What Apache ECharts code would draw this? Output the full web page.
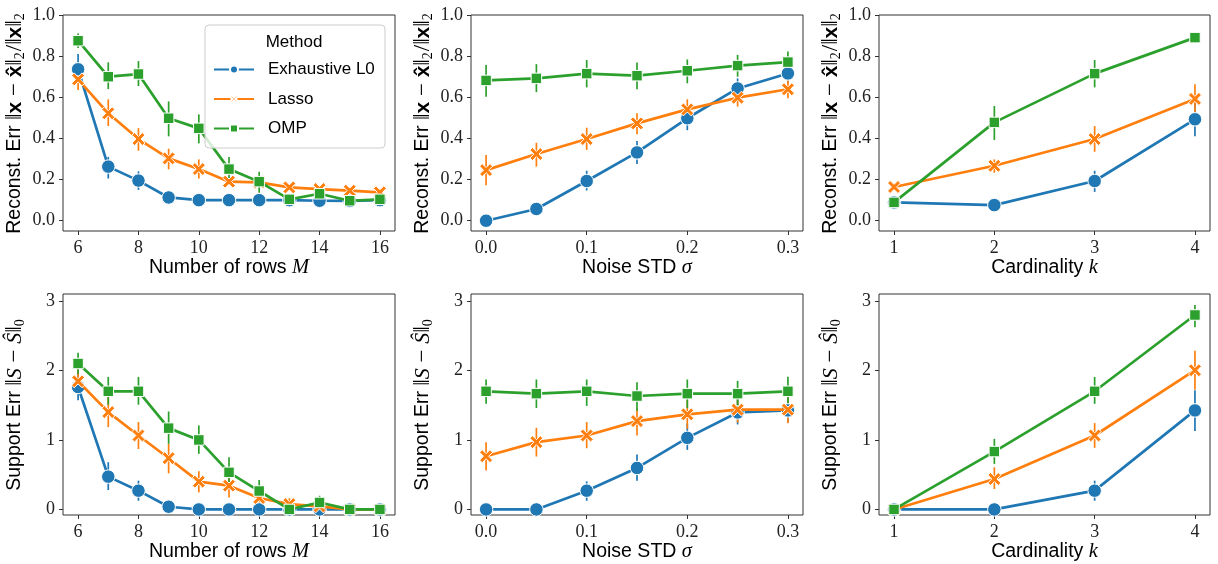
<!DOCTYPE html>
<html>
<head>
<meta charset="utf-8">
<script src="https://cdn.jsdelivr.net/npm/echarts@6/dist/echarts.min.js"></script>
<style>html,body{margin:0;padding:0;background:#fff}#c{width:1218px;height:564px}</style>
</head>
<body>
<div id="c"></div>
<script>
// ---------- data ----------
const methods = ['Exhaustive L0', 'Lasso', 'OMP'];
const rowsM = [6, 7, 8, 9, 10, 11, 12, 13, 14, 15, 16];
const noiseSigma = [0, 0.05, 0.1, 0.15, 0.2, 0.25, 0.3];
const cardK = [1, 2, 3, 4];

const xTicksM = [6, 8, 10, 12, 14, 16];
const xTicksSigma = [0, 0.1, 0.2, 0.3];
const xTicksK = [1, 2, 3, 4];
const yTicksRec = [0, 0.2, 0.4, 0.6, 0.8, 1.0];
const yTicksSup = [0, 1, 2, 3];

// Reconstruction error vs M
const recM_L0 = [0.736, 0.263, 0.195, 0.113, 0.100, 0.100, 0.100, 0.100, 0.097, 0.096, 0.100];
const recM_L0_ci = [[0.67, 0.81], [0.205, 0.31], [0.15, 0.24], [0.10, 0.125], [0.095, 0.105], [0.095, 0.105], [0.095, 0.105], [0.095, 0.105], [0.092, 0.102], [0.091, 0.101], [0.095, 0.105]];
const recM_Lasso = [0.687, 0.522, 0.397, 0.303, 0.251, 0.190, 0.186, 0.162, 0.154, 0.146, 0.138];
const recM_Lasso_ci = [[0.635, 0.74], [0.46, 0.59], [0.34, 0.45], [0.25, 0.35], [0.205, 0.298], [0.175, 0.205], [0.172, 0.200], [0.152, 0.172], [0.145, 0.163], [0.138, 0.154], [0.130, 0.146]];
const recM_OMP = [0.875, 0.700, 0.713, 0.498, 0.449, 0.251, 0.190, 0.104, 0.131, 0.097, 0.104];
const recM_OMP_ci = [[0.84, 0.91], [0.64, 0.77], [0.655, 0.776], [0.41, 0.58], [0.376, 0.517], [0.185, 0.31], [0.136, 0.238], [0.098, 0.11], [0.104, 0.157], [0.092, 0.102], [0.098, 0.11]];

// Reconstruction error vs sigma
const recS_L0 = [0.0, 0.057, 0.193, 0.332, 0.498, 0.643, 0.716];
const recS_L0_ci = [[0, 0], [0.05, 0.064], [0.147, 0.243], [0.276, 0.387], [0.44, 0.546], [0.595, 0.692], [0.668, 0.765]];
const recS_Lasso = [0.246, 0.324, 0.397, 0.473, 0.541, 0.598, 0.639];
const recS_Lasso_ci = [[0.173, 0.319], [0.263, 0.379], [0.344, 0.452], [0.42, 0.522], [0.49, 0.59], [0.555, 0.639], [0.595, 0.684]];
const recS_OMP = [0.682, 0.692, 0.715, 0.705, 0.729, 0.754, 0.771];
const recS_OMP_ci = [[0.603, 0.757], [0.625, 0.761], [0.648, 0.781], [0.639, 0.769], [0.668, 0.784], [0.70, 0.806], [0.714, 0.822]];

// Reconstruction error vs k
const recK_L0 = [0.089, 0.076, 0.193, 0.493];
const recK_L0_ci = [[0.08, 0.098], [0.07, 0.082], [0.14, 0.243], [0.41, 0.579]];
const recK_Lasso = [0.164, 0.267, 0.397, 0.592];
const recK_Lasso_ci = [[0.15, 0.18], [0.233, 0.298], [0.335, 0.46], [0.525, 0.663]];
const recK_OMP = [0.089, 0.478, 0.715, 0.890];
const recK_OMP_ci = [[0.08, 0.10], [0.392, 0.558], [0.648, 0.781], [0.868, 0.91]];

// Support error vs M
const supM_L0 = [1.762, 0.472, 0.270, 0.039, 0, 0, 0, 0, 0, 0, 0];
const supM_L0_ci = [[1.57, 1.955], [0.28, 0.68], [0.125, 0.414], [0, 0.09], [0, 0], [0, 0], [0, 0], [0, 0], [0, 0], [0, 0], [0, 0]];
const supM_Lasso = [1.844, 1.401, 1.064, 0.737, 0.400, 0.342, 0.164, 0.077, 0.043, 0, 0];
const supM_Lasso_ci = [[1.666, 2.027], [1.185, 1.618], [0.87, 1.257], [0.52, 0.944], [0.245, 0.55], [0.173, 0.486], [0.053, 0.27], [0, 0.16], [0, 0.1], [0, 0], [0, 0]];
const supM_OMP = [2.10, 1.70, 1.70, 1.17, 1.00, 0.534, 0.265, 0, 0.10, 0, 0];
const supM_OMP_ci = [[1.945, 2.254], [1.507, 1.907], [1.507, 1.907], [0.944, 1.41], [0.80, 1.209], [0.318, 0.751], [0.125, 0.424], [0, 0], [0.005, 0.197], [0, 0], [0, 0]];

// Support error vs sigma
const supS_L0 = [0, 0, 0.270, 0.597, 1.030, 1.396, 1.425];
const supS_L0_ci = [[0, 0], [0, 0], [0.125, 0.404], [0.414, 0.79], [0.857, 1.233], [1.223, 1.594], [1.257, 1.608]];
const supS_Lasso = [0.766, 0.968, 1.064, 1.271, 1.368, 1.435, 1.435];
const supS_Lasso_ci = [[0.559, 0.968], [0.761, 1.175], [0.881, 1.257], [1.064, 1.449], [1.16, 1.57], [1.25, 1.62], [1.24, 1.64]];
const supS_OMP = [1.70, 1.666, 1.70, 1.632, 1.666, 1.666, 1.70];
const supS_OMP_ci = [[1.52, 1.868], [1.46, 1.87], [1.49, 1.87], [1.42, 1.83], [1.46, 1.87], [1.48, 1.85], [1.51, 1.91]];

// Support error vs k
const supK_L0 = [0, 0, 0.270, 1.425];
const supK_L0_ci = [[0, 0], [0, 0], [0.125, 0.414], [1.127, 1.714]];
const supK_Lasso = [0, 0.438, 1.064, 2.003];
const supK_Lasso_ci = [[0, 0], [0.294, 0.607], [0.886, 1.242], [1.724, 2.283]];
const supK_OMP = [0, 0.833, 1.700, 2.798];
const supK_OMP_ci = [[0, 0], [0.655, 1.016], [1.52, 1.907], [2.62, 2.942]];

// ---------- styling ----------
const colors = ['#1f77b4', '#ff7f0e', '#2ca02c'];
const xShape = 'path://M2,0 L5,3 L8,0 L10,2 L7,5 L10,8 L8,10 L5,7 L2,10 L0,8 L3,5 L0,2 Z';
const symbols = ['circle', xShape, 'rect'];
const symSizes = [13.5, 13, 10.5];
const SANS = 'Liberation Sans';
const SERIF = 'Liberation Serif';
const AX = '#333';
const TICK_FS = 18;
const NAME_FS = 19.5;

const panels = [
  {x: rowsM, ys: [recM_L0, recM_Lasso, recM_OMP], cis: [recM_L0_ci, recM_Lasso_ci, recM_OMP_ci], xt: xTicksM, xr: [5.5, 16.5], xf: v => String(v), yt: yTicksRec, yr: [-0.05, 1.0], yf: v => v.toFixed(1), xname: '{t|Number of rows }{i|M}', kind: 'rec', grid: {left: 63, top: 15, width: 332, height: 216}},
  {x: noiseSigma, ys: [recS_L0, recS_Lasso, recS_OMP], cis: [recS_L0_ci, recS_Lasso_ci, recS_OMP_ci], xt: xTicksSigma, xr: [-0.015, 0.315], xf: v => v.toFixed(1), yt: yTicksRec, yr: [-0.05, 1.0], yf: v => v.toFixed(1), xname: '{t|Noise STD }{i|σ}', kind: 'rec', grid: {left: 471, top: 15, width: 332, height: 216}},
  {x: cardK, ys: [recK_L0, recK_Lasso, recK_OMP], cis: [recK_L0_ci, recK_Lasso_ci, recK_OMP_ci], xt: xTicksK, xr: [0.85, 4.15], xf: v => String(v), yt: yTicksRec, yr: [-0.05, 1.0], yf: v => v.toFixed(1), xname: '{t|Cardinality }{i|k}', kind: 'rec', grid: {left: 879, top: 15, width: 331, height: 216}},
  {x: rowsM, ys: [supM_L0, supM_Lasso, supM_OMP], cis: [supM_L0_ci, supM_Lasso_ci, supM_OMP_ci], xt: xTicksM, xr: [5.5, 16.5], xf: v => String(v), yt: yTicksSup, yr: [-0.08, 3.1], yf: v => String(v), xname: '{t|Number of rows }{i|M}', kind: 'sup', grid: {left: 63, top: 294, width: 332, height: 221}},
  {x: noiseSigma, ys: [supS_L0, supS_Lasso, supS_OMP], cis: [supS_L0_ci, supS_Lasso_ci, supS_OMP_ci], xt: xTicksSigma, xr: [-0.015, 0.315], xf: v => v.toFixed(1), yt: yTicksSup, yr: [-0.08, 3.1], yf: v => String(v), xname: '{t|Noise STD }{i|σ}', kind: 'sup', grid: {left: 471, top: 294, width: 332, height: 221}},
  {x: cardK, ys: [supK_L0, supK_Lasso, supK_OMP], cis: [supK_L0_ci, supK_Lasso_ci, supK_OMP_ci], xt: xTicksK, xr: [0.85, 4.15], xf: v => String(v), yt: yTicksSup, yr: [-0.08, 3.1], yf: v => String(v), xname: '{t|Cardinality }{i|k}', kind: 'sup', grid: {left: 879, top: 294, width: 331, height: 221}}
];

const recName = '{t|Reconst. Err }{m|‖}{b|x}{m| − }{b|x̂}{m|‖}{s|2}{m|/‖}{b|x}{m|‖}{s|2}';
const supName = '{t|Support Err }{m|‖}{c|S}{m| − }{c|Ŝ}{m|‖}{s|0}';

const nameRich = {
  t: {fontFamily: SANS, fontSize: NAME_FS, color: '#000'},
  i: {fontFamily: SERIF, fontStyle: 'italic', fontSize: NAME_FS + 1, color: '#000'},
  m: {fontFamily: SERIF, fontSize: 23, color: '#000'},
  b: {fontFamily: SANS, fontWeight: 'bold', fontSize: 21, color: '#000'},
  c: {fontFamily: SERIF, fontStyle: 'italic', fontSize: 22, color: '#000'},
  s: {fontFamily: SERIF, fontSize: 14, color: '#000', verticalAlign: 'bottom', padding: [10, 1, 0, 0]}
};

const grids = [], xAxes = [], yAxes = [], series = [];
panels.forEach((p, gi) => {
  grids.push(Object.assign({show: true, borderColor: AX, borderWidth: 1, backgroundColor: 'transparent'}, p.grid));
  xAxes.push({
    type: 'value', gridIndex: gi, min: p.xr[0], max: p.xr[1],
    axisLine: {show: false, onZero: false}, splitLine: {show: false},
    axisTick: {show: true, length: 4, lineStyle: {color: AX, width: 1}, customValues: p.xt},
    axisLabel: {customValues: p.xt, formatter: p.xf, fontFamily: SERIF, fontSize: TICK_FS, color: '#222', margin: 8},
    name: p.xname, nameLocation: 'middle', nameGap: 27,
    nameTextStyle: {rich: nameRich}
  });
  yAxes.push({
    type: 'value', gridIndex: gi, min: p.yr[0], max: p.yr[1],
    axisLine: {show: false, onZero: false}, splitLine: {show: false},
    axisTick: {show: true, length: 4, lineStyle: {color: AX, width: 1}, customValues: p.yt},
    axisLabel: {customValues: p.yt, formatter: p.yf, fontFamily: SERIF, fontSize: TICK_FS, color: '#222', margin: 8},
    name: p.kind === 'rec' ? recName : supName, nameLocation: 'middle', nameGap: 36, nameRotate: 90,
    nameTextStyle: {rich: nameRich}
  });
  // error bars first (behind)
  p.ys.forEach((ys, mi) => {
    const ci = p.cis[mi];
    series.push({
      type: 'custom', name: 'ci' + gi + mi, xAxisIndex: gi, yAxisIndex: gi, z: 1, silent: true,
      encode: {x: 0, y: [1, 2]},
      data: p.x.map((x, i) => [x, ci[i][0], ci[i][1]]),
      renderItem: (params, api) => {
        const a = api.coord([api.value(0), api.value(1)]);
        const b = api.coord([api.value(0), api.value(2)]);
        return {type: 'line', shape: {x1: a[0], y1: a[1], x2: b[0], y2: b[1]}, style: {stroke: colors[mi], lineWidth: 1.7}};
      }
    });
  });
  p.ys.forEach((ys, mi) => {
    series.push({
      type: 'line', name: methods[mi], xAxisIndex: gi, yAxisIndex: gi, z: 2 + mi,
      data: p.x.map((x, i) => [x, ys[i]]),
      symbol: symbols[mi], symbolSize: symSizes[mi], showAllSymbol: true,
      lineStyle: {color: colors[mi], width: 2.7},
      itemStyle: {color: colors[mi], borderColor: '#fff', borderWidth: 1},
      emphasis: {disabled: true}, animation: false
    });
  });
});

const chart = echarts.init(document.getElementById('c'), null, {renderer: 'canvas'});
chart.setOption({
  animation: false,
  grid: grids, xAxis: xAxes, yAxis: yAxes, series: series,
  legend: {
    data: methods, orient: 'vertical', left: 213, top: 61, z: 12, padding: 0,
    itemWidth: 40, itemHeight: 10, itemGap: 12.5,
    textStyle: {fontFamily: SANS, fontSize: 17, color: '#000', padding: [0, 0, 0, 9]}
  },
  graphic: [
    {type: 'rect', z: 10, shape: {x: 205, y: 25, width: 180, height: 123, r: 4}, style: {fill: 'rgba(255,255,255,0.8)', stroke: '#ccc', lineWidth: 1}},
    {type: 'text', z: 11, x: 294, y: 42, style: {text: 'Method', fontFamily: SANS, fontSize: 17, fill: '#000', align: 'center', verticalAlign: 'middle'}}
  ]
});
</script>
</body>
</html>
